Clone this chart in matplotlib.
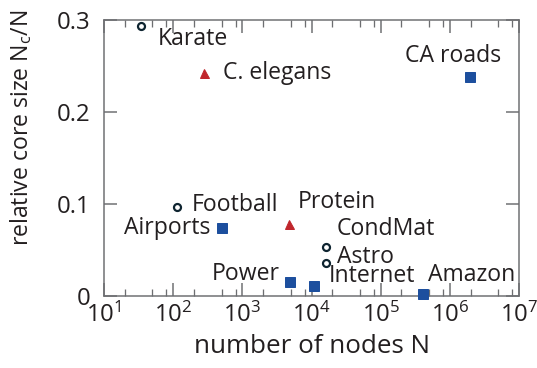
import matplotlib.pyplot as plt
from matplotlib.ticker import LogLocator, FixedLocator

plt.rcParams['font.family'] = ['Open Sans', 'DejaVu Sans']
plt.rcParams['mathtext.fontset'] = 'custom'
plt.rcParams['mathtext.rm'] = 'Open Sans'
plt.rcParams['mathtext.it'] = 'Open Sans:italic'

# networks: name, number of nodes, relative core size
circ_names = ["Karate", "Football", "CondMat", "Astro"]
circ_n = [34, 115, 16200, 16200]
circ_c = [0.294, 0.097, 0.053, 0.036]

tri_names = ["C. elegans", "Protein"]
tri_n = [279, 4700]
tri_c = [0.242, 0.078]

sq_names = ["CA roads", "Airports", "Power", "Internet", "Amazon"]
sq_n = [1.96e6, 500, 4941, 11000, 403394]
sq_c = [0.238, 0.074, 0.015, 0.011, 0.002]

# label offsets in points and alignment
offsets = {
    "Karate": (17, -13, "left"),
    "Football": (14, 2, "left"),
    "CondMat": (11, 18, "left"),
    "Astro": (11, 6, "left"),
    "C. elegans": (19, 0, "left"),
    "Protein": (9, 22, "left"),
    "CA roads": (-17, 21, "center"),
    "Airports": (-11, 0, "right"),
    "Power": (-11, 8, "right"),
    "Internet": (14, 10, "left"),
    "Amazon": (5, 19, "left"),
}

fig = plt.figure(figsize=(537/72, 368/72), dpi=72)
ax = fig.add_axes([104/537, 72/368, 415/537, 276/368])

ax.plot(circ_n, circ_c, 'o', ms=7, mfc='white', mec='#0e2430', mew=2.2, clip_on=False, zorder=3)
ax.plot(tri_n, tri_c, '^', ms=9, color='#c0262c', clip_on=False, zorder=3)
ax.plot(sq_n, sq_c, 's', ms=10, color='#1d4f9e', clip_on=False, zorder=3)

for names, xs, ys in [(circ_names, circ_n, circ_c), (tri_names, tri_n, tri_c), (sq_names, sq_n, sq_c)]:
    for name, x, y in zip(names, xs, ys):
        dx, dy, ha = offsets[name]
        ax.annotate(name, (x, y), xytext=(dx, dy), textcoords='offset points',
                    ha=ha, va='center', fontsize=23, color='#231f20')

ax.set_xscale('log')
ax.set_xlim(10, 1e7)
ax.set_ylim(0, 0.3)
ax.xaxis.set_major_locator(LogLocator(base=10, numticks=10))
ax.xaxis.set_minor_locator(LogLocator(base=10, subs=[2, 5, 8], numticks=10))
ax.yaxis.set_major_locator(FixedLocator([0, 0.1, 0.2, 0.3]))
ax.set_yticklabels(['0', '0.1', '0.2', '0.3'])

for s in ax.spines.values():
    s.set_color('#6d6e71')
    s.set_linewidth(1.5)
ax.tick_params(which='major', direction='in', length=13, width=1.5, color='#6d6e71',
               top=True, right=True, labelsize=24, labelcolor='#231f20')
ax.tick_params(axis='x', which='major', pad=7)
ax.tick_params(axis='y', which='major', pad=14)
ax.tick_params(which='minor', direction='in', length=7, width=1.3, color='#6d6e71', top=True)

ax.set_xlabel('number of nodes N', fontsize=26, color='#231f20', labelpad=6)
ax.set_ylabel('relative core size N$_\\mathrm{c}$/N', fontsize=23, color='#231f20')
ax.yaxis.set_label_coords(-0.169, 0.61)

fig.savefig('out.png', dpi=72)
